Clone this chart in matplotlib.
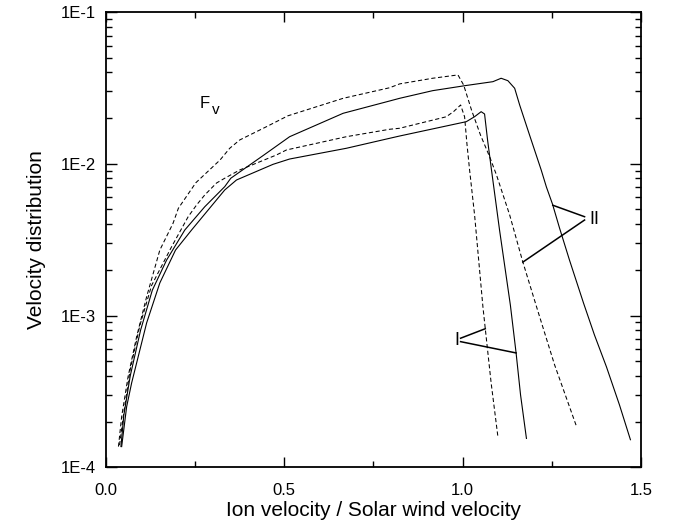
import numpy as np
import matplotlib
matplotlib.use("Agg")
import matplotlib.pyplot as plt
from matplotlib.ticker import FixedLocator, LogLocator, NullFormatter, MultipleLocator

plt.rcParams['font.family'] = ['Liberation Sans', 'DejaVu Sans']

# curve II (dashed)
dash2_x = [0.035, 0.044, 0.062, 0.086, 0.114, 0.151, 0.188, 0.203, 0.252, 0.32, 0.347, 0.375,
           0.45, 0.51, 0.665, 0.7955, 0.8235, 0.916, 0.987, 1.003, 1.025, 1.05, 1.076, 1.095,
           1.132, 1.168, 1.21, 1.258, 1.319]
dash2_y = [1.37e-4, 2.16e-4, 3.96e-4, 7.26e-4, 1.33e-3, 2.70e-3, 4.05e-3, 5.09e-3, 7.5e-3, 1.06e-2,
           1.265e-2, 1.435e-2, 1.755e-2, 2.07e-2, 2.70e-2, 3.17e-2, 3.36e-2, 3.66e-2, 3.85e-2,
           3.30e-2, 2.26e-2, 1.55e-2, 1.11e-2, 8.44e-3, 4.60e-3, 2.29e-3, 1.09e-3, 4.73e-4, 1.87e-4]

# curve I (dashed)
dash1_x = [0.038, 0.049, 0.067, 0.095, 0.128, 0.184, 0.2305, 0.254, 0.277, 0.31, 0.333, 0.375,
           0.478, 0.506, 0.674, 0.7955, 0.8235, 0.954, 0.975, 0.9944, 1.0056, 1.012, 1.0196,
           1.0336, 1.057, 1.080, 1.099]
dash1_y = [1.4e-4, 2.2e-4, 4.3e-4, 8.6e-4, 1.58e-3, 2.84e-3, 4.48e-3, 5.35e-3, 6.23e-3, 7.47e-3,
           8.03e-3, 9.1e-3, 1.143e-2, 1.233e-2, 1.508e-2, 1.688e-2, 1.714e-2, 2.04e-2, 2.21e-2,
           2.44e-2, 2.04e-2, 1.365e-2, 9.1e-3, 4.6e-3, 1.14e-3, 3.6e-4, 1.59e-4]

# curve II (solid)
sol2_x = [0.042, 0.05, 0.068, 0.097, 0.13, 0.17, 0.221, 0.277, 0.333, 0.35, 0.44, 0.515, 0.665,
          0.7955, 0.8235, 0.916, 1.01, 1.085, 1.108, 1.127, 1.146, 1.160, 1.1877, 1.2204, 1.235,
          1.252, 1.2717, 1.2997, 1.339, 1.3697, 1.4034, 1.4398, 1.4706]
sol2_y = [1.37e-4, 2.2e-4, 4.0e-4, 8.0e-4, 1.47e-3, 2.32e-3, 3.66e-3, 5.21e-3, 7.07e-3, 8.03e-3,
          1.13e-2, 1.508e-2, 2.151e-2, 2.593e-2, 2.70e-2, 3.032e-2, 3.28e-2, 3.475e-2, 3.66e-2,
          3.527e-2, 3.144e-2, 2.44e-2, 1.548e-2, 9.1e-3, 7.03e-3, 5.43e-3, 3.78e-3, 2.32e-3,
          1.21e-3, 7.45e-4, 4.59e-4, 2.58e-4, 1.52e-4]

# curve I (solid)
sol1_x = [0.044, 0.058, 0.072, 0.114, 0.151, 0.195, 0.24, 0.333, 0.366, 0.4686, 0.515, 0.674,
          0.7955, 0.8235, 1.0104, 1.0336, 1.052, 1.0616, 1.07, 1.081, 1.1036, 1.134, 1.150,
          1.1625, 1.179]
sol1_y = [1.37e-4, 2.51e-4, 3.6e-4, 8.94e-4, 1.64e-3, 2.7e-3, 3.66e-3, 6.72e-3, 7.82e-3, 9.92e-3,
          1.075e-2, 1.265e-2, 1.472e-2, 1.524e-2, 1.894e-2, 2.043e-2, 2.204e-2, 2.128e-2, 1.435e-2,
          9.1e-3, 3.66e-3, 1.17e-3, 5.67e-4, 3.0e-4, 1.55e-4]

ytick_vals = [1e-4, 1e-3, 1e-2, 1e-1]
ytick_labels = ['1E-4', '1E-3', '1E-2', '1E-1']
xtick_vals = [0.0, 0.5, 1.0, 1.5]
xtick_labels = ['0.0', '0.5', '1.0', '1.5']


def on_curve(xs, ys, x):
    # y value on a curve at x (log interpolation), for pointer lines
    return 10 ** np.interp(x, xs, np.log10(ys))


fig = plt.figure(figsize=(6.78, 5.29), dpi=100)
ax = fig.add_axes([0.1563, 0.1166, 0.789, 0.8607])

dash = (0, (4, 2.5))
ax.plot(dash2_x, dash2_y, color='black', lw=0.75, ls=dash)
ax.plot(dash1_x, dash1_y, color='black', lw=0.75, ls=dash)
ax.plot(sol2_x, sol2_y, color='black', lw=0.8)
ax.plot(sol1_x, sol1_y, color='black', lw=0.8)

ax.set_yscale('log')
ax.set_xlim(0, 1.5)
ax.set_ylim(1e-4, 1e-1)

ax.yaxis.set_major_locator(FixedLocator(ytick_vals))
ax.set_yticklabels(ytick_labels)
ax.yaxis.set_minor_locator(LogLocator(base=10, subs=np.arange(2, 10)))
ax.yaxis.set_minor_formatter(NullFormatter())
ax.set_xticks(xtick_vals)
ax.set_xticklabels(xtick_labels)
ax.xaxis.set_minor_locator(MultipleLocator(0.25))

ax.tick_params(which='both', direction='in', top=True, right=True, labelsize=12, width=1.0)
ax.tick_params(axis='x', which='major', length=7, pad=11.5)
ax.tick_params(axis='x', which='minor', length=4)
ax.tick_params(axis='y', which='major', length=8, pad=7)
ax.tick_params(axis='y', which='minor', length=4)
for s in ax.spines.values():
    s.set_linewidth(1.3)

ax.set_xlabel('Ion velocity / Solar wind velocity', fontsize=15, labelpad=2)
ax.set_ylabel('Velocity distribution', fontsize=15, labelpad=11)

# F_v label
ax.text(0.263, 0.0232, 'F', fontsize=12, ha='left', va='baseline')
ax.annotate('v', xy=(0.263, 0.0232), xytext=(8.6, -3.8), textcoords='offset points',
            fontsize=11, ha='left', va='baseline')

# label I with pointers
ax.text(0.983, 6.9e-4, 'I', fontsize=13, ha='center', va='center')
ax.plot([0.9944, 1.0636], [7.09e-4, on_curve(dash1_x, dash1_y, 1.0636)],
        color='black', lw=1.1)
ax.plot([0.9944, 1.150], [6.73e-4, on_curve(sol1_x, sol1_y, 1.150)], color='black', lw=1.1)

# label II with pointers
ax.text(1.355, 4.3e-3, 'II', fontsize=13, ha='left', va='center')
ax.plot([1.342, 1.253], [4.48e-3, on_curve(sol2_x, sol2_y, 1.253)], color='black', lw=1.1)
ax.plot([1.342, 1.169], [4.26e-3, on_curve(dash2_x, dash2_y, 1.169)], color='black', lw=1.1)

fig.savefig('out.png', dpi=100)
